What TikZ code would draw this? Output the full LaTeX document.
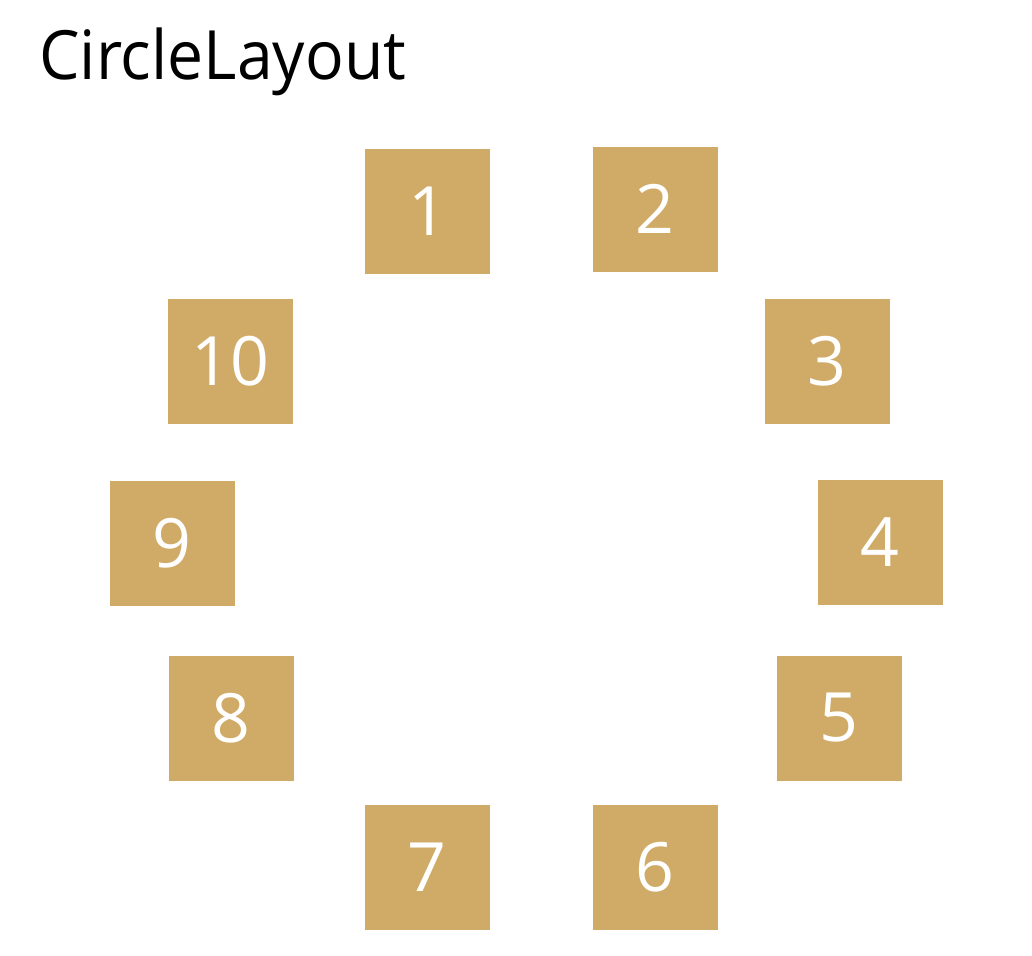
\documentclass[tikz,border=0pt]{standalone}
\usepackage{fontspec}
\setmainfont{Open Sans}
\definecolor{tan}{RGB}{208,171,103}
\tikzset{
  item/.style={fill=tan, draw=none, minimum width=125pt, minimum height=125pt, inner sep=0pt, text=white, font=\fontsize{68}{80}\selectfont},
  ttl/.style={anchor=base west, inner sep=0pt, font=\fontsize{68}{80}\selectfont}
}
\begin{document}
\begin{tikzpicture}[x=1pt,y=-1pt]
\useasboundingbox (0,0) rectangle (1032,955);
\node[ttl] (title) at (39,80) {\scalebox{0.945}[1]{CircleLayout}};
\node[item] (n1) at (427.5,211) {1};
\node[item] (n2) at (655,209) {2};
\node[item] (n3) at (827,361) {3};
\node[item] (n4) at (880,542) {4};
\node[item] (n5) at (839,718) {5};
\node[item] (n6) at (655,867) {6};
\node[item] (n7) at (427,867) {7};
\node[item] (n8) at (231,718) {8};
\node[item] (n9) at (172,543) {9};
\node[item] (n10) at (230,361) {10};
\end{tikzpicture}
\end{document}
